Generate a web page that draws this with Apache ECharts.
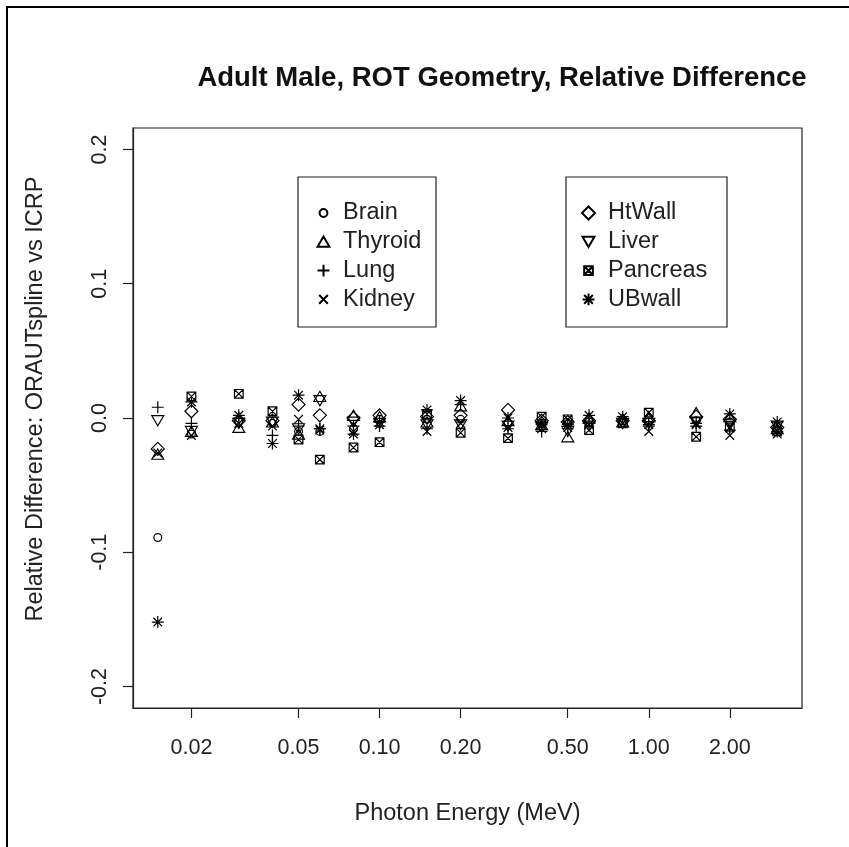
<!DOCTYPE html>
<html>
<head>
<meta charset="utf-8">
<title>Adult Male, ROT Geometry, Relative Difference</title>
<script src="https://cdn.jsdelivr.net/npm/echarts@6/dist/echarts.min.js"></script>
<style>
  html, body { margin: 0; padding: 0; background: #fff; }
  #main { width: 849px; height: 847px; }
</style>
</head>
<body>
<div id="main"></div>
<script>
// photon energies (MeV)
const energy = [0.015, 0.02, 0.03, 0.04, 0.05, 0.06, 0.08, 0.1, 0.15, 0.2, 0.3, 0.4, 0.5, 0.6, 0.8, 1, 1.5, 2, 3];

// relative difference per organ
const brain    = [-0.089, -0.012, -0.003, -0.004, -0.010, -0.010, -0.008, -0.001, -0.001, -0.001, -0.004, -0.004, -0.004, -0.003, -0.002, -0.003, -0.002, -0.003, -0.009];
const thyroid  = [-0.027, -0.010, -0.007, -0.003, -0.012, 0.016, 0.002, 0.001, -0.003, 0.009, -0.002, -0.005, -0.014, 0.000, -0.003, 0.001, 0.004, 0.001, -0.008];
const lung     = [0.008, -0.004, 0.000, -0.013, -0.006, -0.008, -0.006, -0.006, -0.008, 0.010, -0.008, -0.010, -0.008, -0.004, -0.001, -0.006, -0.006, -0.009, -0.010];
const kidney   = [-0.026, -0.013, -0.004, -0.006, -0.001, -0.009, -0.010, -0.005, -0.010, -0.004, -0.007, -0.008, -0.007, -0.005, -0.004, -0.010, -0.005, -0.013, -0.012];
const htwall   = [-0.023, 0.005, -0.002, -0.002, 0.010, 0.002, 0.000, 0.002, 0.001, 0.002, 0.006, -0.002, -0.003, -0.002, -0.002, -0.002, 0.001, -0.001, -0.007];
const liver    = [-0.002, -0.010, -0.004, -0.003, -0.008, 0.013, -0.003, -0.004, -0.005, -0.005, -0.006, -0.007, -0.010, -0.006, -0.004, -0.004, -0.003, -0.005, -0.006];
const pancreas = [null, 0.016, 0.018, 0.005, -0.016, -0.031, -0.022, -0.018, 0.003, -0.011, -0.015, 0.001, -0.001, -0.009, -0.004, 0.004, -0.014, -0.007, -0.010];
const ubwall   = [-0.152, 0.012, 0.002, -0.019, 0.017, -0.008, -0.012, -0.003, 0.006, 0.013, 0.000, -0.005, -0.005, 0.002, 0.001, -0.005, -0.004, 0.003, -0.003];

const xTicks = [0.02, 0.05, 0.1, 0.2, 0.5, 1, 2];
const yTicks = [-0.2, -0.1, 0, 0.1, 0.2];

// R-like plotting symbols, all drawn in a 12x12 box
const B = 'path://M0,0M12,12';
const sym = {
  circle:  B + 'M2.4,6A3.6,3.6 0 1 1 9.6,6A3.6,3.6 0 1 1 2.4,6Z',
  tri:     B + 'M6,1.2L11.5,10.6L0.5,10.6Z',
  plus:    B + 'M0.5,6L11.5,6M6,0.5L6,11.5',
  cross:   B + 'M2,2L10,10M10,2L2,10',
  diamond: B + 'M6,0L12,6L6,12L0,6Z',
  down:    B + 'M0.5,1.4L11.5,1.4L6,10.8Z',
  boxx:    B + 'M2,2L10,2L10,10L2,10ZM2,2L10,10M10,2L2,10',
  star:    B + 'M0.5,6L11.5,6M6,0.5L6,11.5M2,2L10,10M10,2L2,10'
};

const organs = [
  { name: 'Brain', vals: brain, symbol: sym.circle },
  { name: 'Thyroid', vals: thyroid, symbol: sym.tri },
  { name: 'Lung', vals: lung, symbol: sym.plus },
  { name: 'Kidney', vals: kidney, symbol: sym.cross },
  { name: 'HtWall', vals: htwall, symbol: sym.diamond },
  { name: 'Liver', vals: liver, symbol: sym.down },
  { name: 'Pancreas', vals: pancreas, symbol: sym.boxx },
  { name: 'UBwall', vals: ubwall, symbol: sym.star }
];

// R pads the data range by 4% on each side
const lo = Math.log10(energy[0]), hi = Math.log10(energy[energy.length - 1]);
const pad = (hi - lo) * 0.04;

const font = 'Liberation Sans, Arial, sans-serif';

const series = organs.map(o => ({
  name: o.name,
  type: 'scatter',
  symbol: o.symbol,
  symbolSize: 13,
  itemStyle: { color: 'transparent', borderColor: '#000', borderWidth: 1.2, opacity: 1 },
  emphasis: { disabled: true },
  data: energy.map((e, i) => [e, o.vals[i]]).filter(d => d[1] !== null)
}));

const legendBase = {
  orient: 'vertical',
  padding: 0,
  itemWidth: 13,
  itemHeight: 13,
  itemGap: 4.8,
  selectedMode: false,
  textStyle: { fontFamily: font, fontSize: 23.5, color: '#222', padding: [0, 0, 0, 8] }
};

const chart = echarts.init(document.getElementById('main'), null, { renderer: 'canvas' });
chart.setOption({
  backgroundColor: '#fff',
  animation: false,
  title: {
    text: 'Adult Male, ROT Geometry, Relative Difference',
    left: 497,
    textAlign: 'center',
    top: 59,
    textStyle: { fontFamily: font, fontSize: 27.5, fontWeight: 'bold', color: '#111' }
  },
  legend: [
    Object.assign({}, legendBase, { left: 316, top: 201, data: ['Brain', 'Thyroid', 'Lung', 'Kidney'] }),
    Object.assign({}, legendBase, { left: 581, top: 201, data: ['HtWall', 'Liver', 'Pancreas', 'UBwall'] })
  ],
  grid: {
    left: 133, right: 47, top: 128, bottom: 139,
    show: true, borderColor: '#222', borderWidth: 1.2,
    outerBoundsMode: 'none'
  },
  xAxis: {
    type: 'log',
    logBase: 10,
    min: Math.pow(10, lo - pad),
    max: Math.pow(10, hi + pad),
    name: 'Photon Energy (MeV)',
    nameLocation: 'middle',
    nameGap: 94,
    nameTextStyle: { fontFamily: font, fontSize: 23.5, color: '#222' },
    axisLine: { show: true, onZero: false, lineStyle: { color: '#222', width: 1.2 } },
    axisTick: { show: true, length: 10, customValues: xTicks, lineStyle: { color: '#222', width: 1.2 } },
    minorTick: { show: false },
    axisLabel: {
      customValues: xTicks,
      formatter: v => Number(v).toFixed(2),
      margin: 29,
      fontFamily: font, fontSize: 21.5, color: '#222'
    },
    splitLine: { show: false }
  },
  yAxis: {
    type: 'value',
    min: -0.216,
    max: 0.216,
    name: 'Relative Difference: ORAUTspline vs ICRP',
    nameLocation: 'middle',
    nameGap: 85,
    nameTextStyle: { fontFamily: font, fontSize: 23.5, color: '#222', padding: [0, 0, 0, 38] },
    axisLine: { show: true, onZero: false, lineStyle: { color: '#222', width: 1.2 } },
    axisTick: { show: true, length: 10, customValues: yTicks, lineStyle: { color: '#222', width: 1.2 } },
    axisLabel: {
      customValues: yTicks,
      rotate: 90,
      formatter: v => Number(v).toFixed(1),
      margin: 22,
      fontFamily: font, fontSize: 21.5, color: '#222'
    },
    splitLine: { show: false }
  },
  graphic: [
    { type: 'rect', shape: { x: 298, y: 177, width: 138, height: 150 }, style: { fill: 'none', stroke: '#222', lineWidth: 1.2 }, silent: true },
    { type: 'rect', shape: { x: 566, y: 177, width: 161, height: 150 }, style: { fill: 'none', stroke: '#222', lineWidth: 1.2 }, silent: true },
    { type: 'polyline', shape: { points: [[7, 847], [7, 7], [849, 7]] }, style: { fill: 'none', stroke: '#000', lineWidth: 2 }, silent: true }
  ],
  series: series
});
</script>
</body>
</html>
